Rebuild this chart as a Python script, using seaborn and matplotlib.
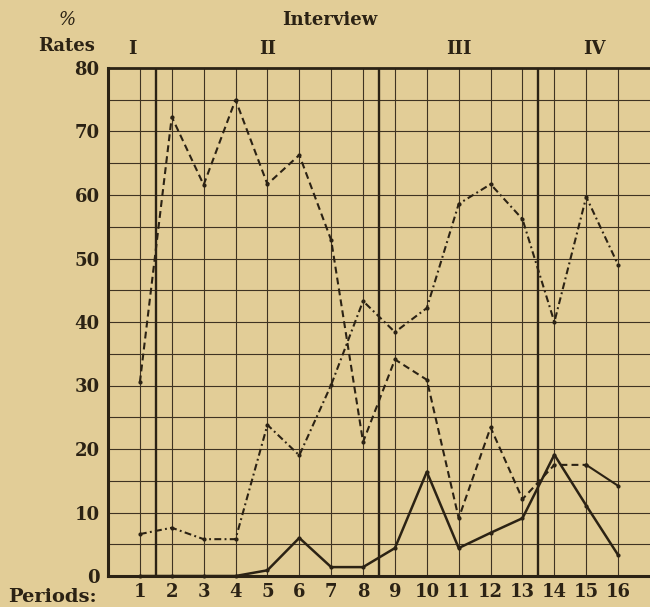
import numpy as np
import pandas as pd
import matplotlib
matplotlib.use("Agg")
import matplotlib.pyplot as plt
import seaborn as sns

# ------------------------------------------------------------
#  data
# ------------------------------------------------------------
periods = list(range(1, 17))
dashed_rates = [30.5, 72.3, 61.6, 75.0, 61.7, 66.3, 52.9, 21.1,
                34.1, 30.9, 9.1, 23.4, 12.1, 17.5, 17.5, 14.2]
dashdot_rates = [6.6, 7.6, 5.8, 5.8, 23.8, 19.0, 30.1, 43.3,
                 38.4, 42.2, 58.6, 61.7, 56.2, 40.0, 59.7, 49.0]
solid_rates = [0, 0, 0, 0, 0.9, 6.0, 1.4, 1.4,
               4.4, 16.4, 4.4, 6.8, 9.1, 19.1, 11.1, 3.3]
interview_labels = ["I", "II", "III", "IV"]
interview_breaks = [1.5, 8.5, 13.5]
y_ticks = list(range(0, 81, 10))

PAPER = "#e2cd97"
INK = "#2b2214"
GRID = "#3f3322"

df = pd.DataFrame({"period": periods, "dashed": dashed_rates,
                   "dashdot": dashdot_rates, "solid": solid_rates})

sns.set_style("white")
plt.rcParams["font.family"] = ["DejaVu Serif"]

fig = plt.figure(figsize=(6.5, 6.07), dpi=100, facecolor=PAPER)
ax = fig.add_axes([108 / 650, 31 / 607, 542 / 650, 508 / 607], facecolor=PAPER)

ax.set_xlim(0, 17)
ax.set_ylim(0, 80)

# grid paper
for yv in np.arange(5, 80, 5):
    ax.axhline(yv, color=GRID, lw=0.8, zorder=1)
for xv in periods:
    ax.axvline(xv, color=GRID, lw=0.8, zorder=1)
for xv in interview_breaks:
    ax.axvline(xv, color=INK, lw=1.7, zorder=2)
ax.axhline(80, color=INK, lw=2.0, zorder=2, clip_on=False)

mk = dict(marker="o", markersize=3, markeredgewidth=0, color=INK, zorder=4)

# series
sns.lineplot(data=df.iloc[:15], x="period", y="dashed", ax=ax, lw=1.5, **mk)
ax.lines[-1].set_dashes([3.3, 2.0])
sns.lineplot(data=df.iloc[14:], x="period", y="dashed", ax=ax, lw=1.5, **mk)
sns.lineplot(data=df, x="period", y="dashdot", ax=ax, lw=1.5, **mk)
ax.lines[-1].set_dashes([3.3, 1.6, 0.9, 1.6])
sns.lineplot(data=df, x="period", y="solid", ax=ax, lw=1.8, clip_on=False, **mk)

# axes styling
for side in ["top", "right"]:
    ax.spines[side].set_visible(False)
for side in ["left", "bottom"]:
    ax.spines[side].set_color(INK)
    ax.spines[side].set_linewidth(2.2)

ax.set_xticks(periods)
ax.set_xticklabels([str(p) for p in periods], fontsize=13, fontweight="bold",
                   color=INK)
ax.set_yticks(y_ticks)
ax.set_yticklabels([str(v) for v in y_ticks], fontsize=13, fontweight="bold",
                   color=INK)
ax.tick_params(axis="both", length=0)
ax.tick_params(axis="x", pad=5)
ax.tick_params(axis="y", pad=6)
ax.set_xlabel("")
ax.set_ylabel("")

# interview numerals centred over each block
bounds = [0] + interview_breaks + [17]
for lab, lo, hi in zip(interview_labels, bounds[:-1], bounds[1:]):
    ax.text((lo + hi) / 2, 81.5, lab, ha="center", va="bottom",
            fontsize=13, fontweight="bold", color=INK)

fig.text(330 / 650, 1 - 20 / 607, "Interview", ha="center", va="center",
         fontsize=13, fontweight="bold", color=INK)
fig.text(67 / 650, 1 - 20 / 607, "%", ha="center", va="center",
         fontsize=13, color=INK, style="italic")
fig.text(67 / 650, 1 - 46 / 607, "Rates", ha="center", va="center",
         fontsize=13, fontweight="bold", color=INK)
fig.text(52 / 650, 1 - 597 / 607, "Periods:", ha="center", va="center",
         fontsize=14, fontweight="bold", color=INK)

plt.savefig("out.png", dpi=100, facecolor=PAPER)
